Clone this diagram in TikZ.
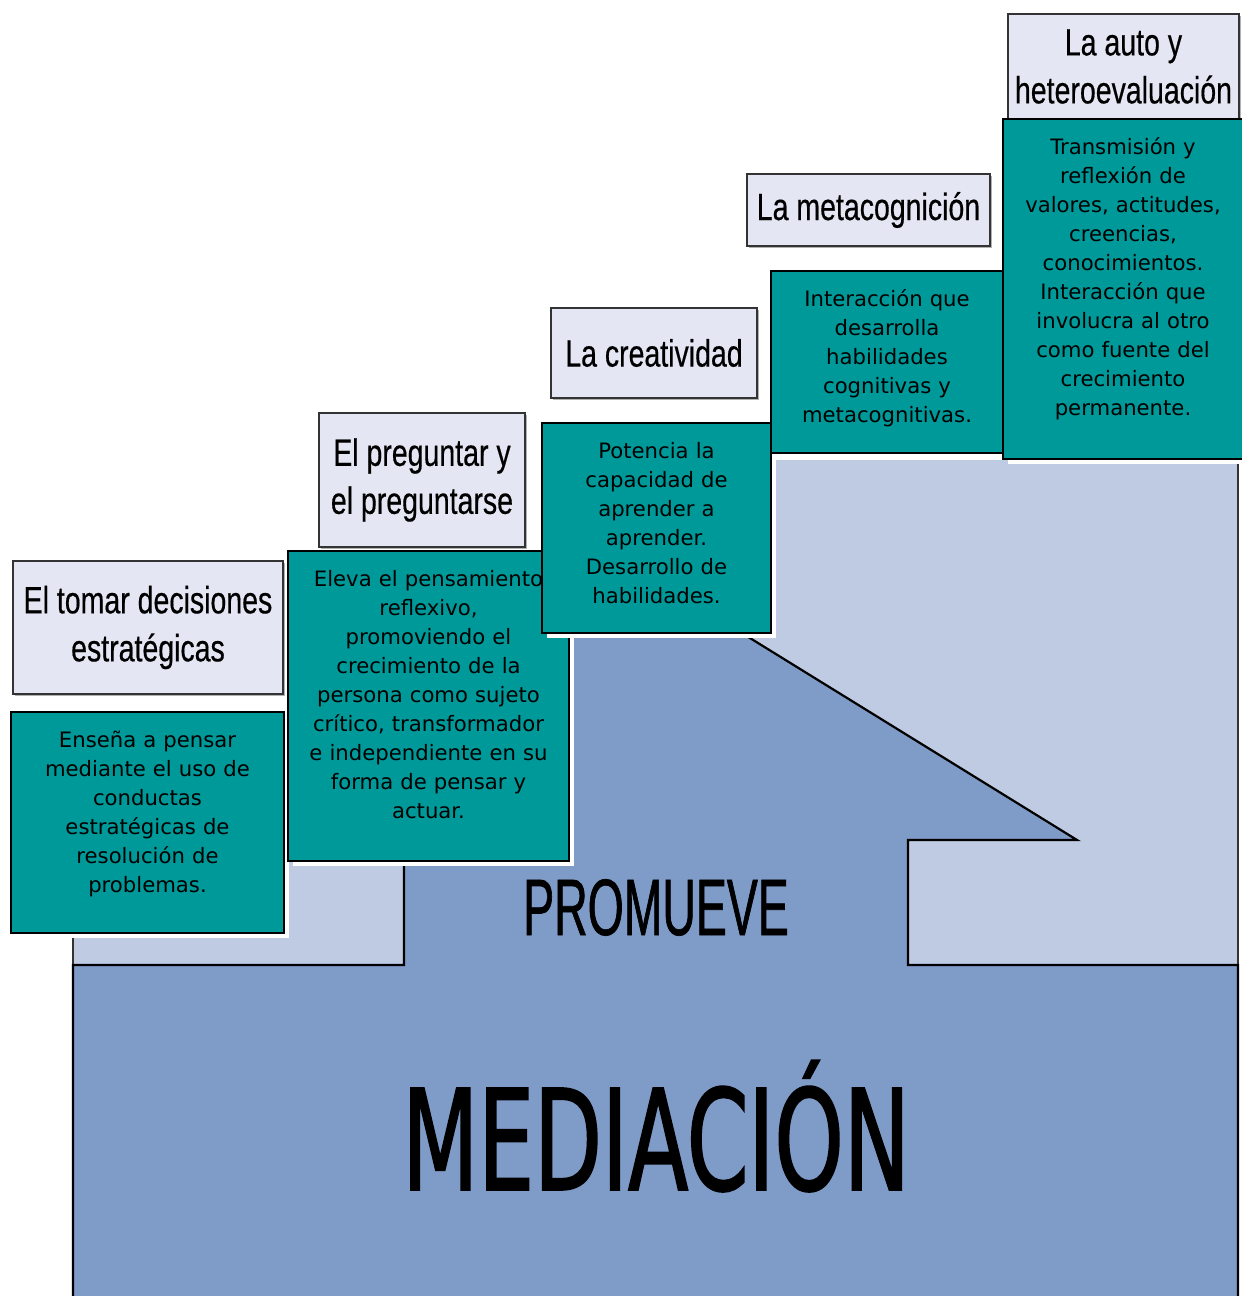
\documentclass[tikz,border=0pt]{standalone}
\usepackage{fontspec}
\usetikzlibrary{shadows}
\newfontfamily\bodyfont{DejaVu Sans}
\newfontfamily\titlefont[FakeStretch=0.75,FakeBold=0.4]{Liberation Sans}
\newfontfamily\promfont[FakeStretch=0.58,FakeBold=0.8]{Liberation Sans}
\newfontfamily\medfont[FakeStretch=0.63,FakeBold=1.2]{DejaVu Sans}
\definecolor{tealfill}{HTML}{009999}
\definecolor{darkblue}{HTML}{7F9BC8}
\definecolor{lightblue}{HTML}{BFCBE3}
\definecolor{titlefill}{HTML}{E4E7F3}

\begin{document}
\begin{tikzpicture}[x=0.5pt,y=-0.5pt,
  tealbox/.style={draw=black,line width=1pt,fill=tealfill,anchor=north west,
    inner xsep=2pt,inner ysep=3pt,text height=14.5pt,align=center,
    font=\bodyfont\fontsize{10.6}{14.5}\selectfont,
    drop shadow={fill=white,opacity=1,shadow xshift=2.5pt,shadow yshift=-2.5pt}},
  titlebox/.style={draw=black!80,line width=1pt,fill=titlefill,anchor=north west,
    align=center,inner sep=0pt,font=\titlefont\fontsize{19}{24}\selectfont,
    drop shadow={fill=black!60,opacity=.5,shadow xshift=1pt,shadow yshift=-1pt}}]
  \useasboundingbox (0,0) rectangle (1242,1296);

  % background and arrow
  \fill[lightblue] (73,965) -- (73,862) -- (290,862) -- (290,640) -- (560,640)
    -- (560,460) -- (1238,460) -- (1238,965) -- cycle;
  \draw[black!80,line width=0.75pt] (73,965) -- (73,862);
  \draw[black!80,line width=0.75pt] (1238,460) -- (1238,965);
  \filldraw[fill=darkblue,draw=black,line width=1.1pt] (73,1300) -- (73,965) -- (404,965)
    -- (404,840) -- (235,840) -- (656,580) -- (1077,840) -- (908,840) -- (908,965)
    -- (1238,965) -- (1238,1300) -- cycle;

  \node[anchor=base,font=\promfont\fontsize{40}{40}\selectfont] (prom) at (656,935) {PROMUEVE};
  \node[anchor=base,font=\medfont\fontsize{70}{70}\selectfont] (med) at (656,1190) {MEDIACIÓN};

  % steps
  \node[titlebox,minimum width=135pt,minimum height=66.5pt] (t1) at (12,560)
    {El tomar decisiones\\estratégicas};
  \node[titlebox,minimum width=103pt,minimum height=67pt] (t2) at (318,412)
    {El preguntar y\\el preguntarse};
  \node[titlebox,minimum width=103pt,minimum height=45pt] (t3) at (550,307)
    {La creatividad};
  \node[titlebox,minimum width=121.5pt,minimum height=36pt] (t4) at (746,173)
    {La metacognición};
  \node[titlebox,minimum width=115.5pt,minimum height=52.5pt] (t5) at (1007,13)
    {La auto y\\heteroevaluación};

  \node[tealbox,text width=132.5pt,text depth=90pt] (d1) at (10,711)
    {Enseña a pensar\\mediante el uso de\\conductas\\estratégicas de\\resolución de\\problemas.};
  \node[tealbox,text width=136.5pt,text depth=134.5pt] (d2) at (287,550)
    {Eleva el pensamiento\\reflexivo,\\promoviendo el\\crecimiento de la\\persona como sujeto\\crítico, transformador\\e independiente en su\\forma de pensar y\\actuar.};
  \node[tealbox,text width=110.5pt,text depth=84.5pt] (d3) at (541,422)
    {Potencia la\\capacidad de\\aprender a\\aprender.\\Desarrollo de\\habilidades.};
  \node[tealbox,text width=112pt,text depth=70.5pt] (d4) at (770,270)
    {Interacción que\\desarrolla\\habilidades\\cognitivas y\\metacognitivas.};
  \node[tealbox,text width=116pt,text depth=149.5pt] (d5) at (1002,118)
    {Transmisión y\\reflexión de\\valores, actitudes,\\creencias,\\conocimientos.\\Interacción que\\involucra al otro\\como fuente del\\crecimiento\\permanente.};
\end{tikzpicture}
\end{document}
